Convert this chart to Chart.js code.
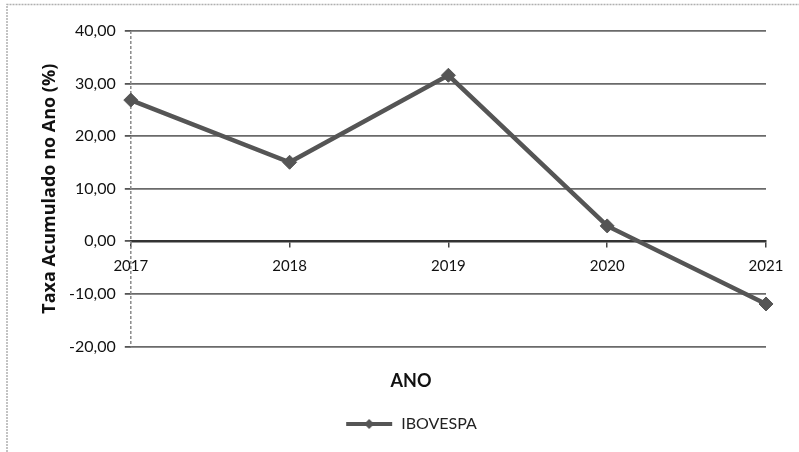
<!DOCTYPE html>
<html>
<head>
<meta charset="utf-8">
<script src="https://cdn.jsdelivr.net/npm/chart.js@4/dist/chart.umd.min.js"></script>
<style>
html,body{margin:0;padding:0;background:#fff;}
#wrap{width:799px;height:452px;position:relative;}
</style>
</head>
<body>
<div id="wrap"><canvas id="c" width="799" height="452"></canvas></div>
<script>
const years = ['2017', '2018', '2019', '2020', '2021'];
const ibovespa = [26.86, 15.03, 31.58, 2.92, -11.93];
const seriesName = 'IBOVESPA';
const yTitle = 'Taxa Acumulado no Ano (%)';
const xTitle = 'ANO';

const lineColor = '#555555';
const FONT = 'Lato, "Open Sans", "DejaVu Sans", sans-serif';

// legend marker: line with diamond
const mk = document.createElement('canvas');
mk.width = 48; mk.height = 14;
(function(){
  const g = mk.getContext('2d');
  g.strokeStyle = lineColor; g.lineWidth = 4;
  g.beginPath(); g.moveTo(1,7); g.lineTo(47,7); g.stroke();
  g.fillStyle = lineColor;
  g.beginPath(); g.moveTo(24,2); g.lineTo(29,7); g.lineTo(24,12); g.lineTo(19,7); g.closePath(); g.fill();
})();

const framePlugin = {
  id: 'frame',
  beforeDraw(chart) {
    const ctx = chart.ctx;
    ctx.save();
    ctx.fillStyle = '#ffffff';
    ctx.fillRect(0, 0, chart.width, chart.height);
    ctx.strokeStyle = '#b0b0b0';
    ctx.lineWidth = 1.5;
    ctx.setLineDash([2, 1]);
    ctx.beginPath();
    ctx.moveTo(7, 452); ctx.lineTo(7, 4.5); ctx.lineTo(799, 4.5);
    ctx.stroke();
    ctx.restore();
  },
  beforeDatasetsDraw(chart) {
    const ctx = chart.ctx, a = chart.chartArea;
    ctx.save();
    ctx.strokeStyle = '#8a8a8a';
    ctx.lineWidth = 1.5;
    ctx.setLineDash([3, 2]);
    ctx.beginPath();
    ctx.moveTo(a.left, a.top); ctx.lineTo(a.left, a.bottom);
    ctx.stroke();
    ctx.restore();
  }
};

new Chart(document.getElementById('c'), {
  type: 'line',
  data: {
    labels: years,
    datasets: [{
      label: seriesName,
      data: ibovespa,
      borderColor: lineColor,
      backgroundColor: lineColor,
      borderWidth: 4.5,
      tension: 0,
      pointStyle: 'rectRot',
      pointRadius: 7,
      pointHoverRadius: 7,
      pointBackgroundColor: lineColor,
      pointBorderColor: lineColor,
      pointBorderWidth: 1,
      fill: false
    }]
  },
  options: {
    responsive: false,
    animation: false,
    layout: { padding: { left: 56, right: 33, top: 31, bottom: 10 } },
    plugins: {
      tooltip: { enabled: false },
      title: {
        display: true,
        text: xTitle,
        position: 'bottom',
        color: '#111',
        font: { family: FONT, size: 18, weight: 'bold' },
        padding: { top: 24, bottom: 16 }
      },
      legend: {
        position: 'bottom',
        weight: 3000,
        labels: {
          usePointStyle: true,
          pointStyleWidth: 48,
          color: '#222',
          font: { family: FONT, size: 16 },
          padding: 8,
          generateLabels(chart) {
            return chart.data.datasets.map((ds, i) => ({
              text: ds.label,
              pointStyle: mk,
              fillStyle: lineColor,
              strokeStyle: lineColor,
              lineWidth: 0,
              hidden: false,
              datasetIndex: i,
              fontColor: '#222'
            }));
          }
        }
      }
    },
    scales: {
      x: {
        type: 'category',
        position: { y: 0 },
        offset: false,
        grid: {
          display: true,
          drawOnChartArea: false,
          drawTicks: true,
          tickLength: 5,
          color: '#444',
          lineWidth: 1.5
        },
        border: { display: true, color: '#333', width: 2.5 },
        ticks: {
          color: '#111',
          font: { family: FONT, size: 15 },
          padding: 11,
          maxRotation: 0,
          autoSkip: false
        }
      },
      y: {
        min: -20,
        max: 40,
        ticks: {
          stepSize: 10,
          color: '#111',
          font: { family: FONT, size: 16 },
          padding: 9,
          callback: v => v.toFixed(2).replace('.', ',')
        },
        grid: {
          color: '#6a6a6a',
          lineWidth: 1.8,
          tickLength: 6,
          tickColor: '#555'
        },
        border: { display: false },
        title: {
          display: true,
          text: yTitle,
          color: '#111',
          font: { family: '"Open Sans", Lato, sans-serif', size: 18, weight: 'bold' },
          padding: { top: -17, bottom: -0.5 }
        }
      }
    }
  },
  plugins: [framePlugin]
});
</script>
</body>
</html>
